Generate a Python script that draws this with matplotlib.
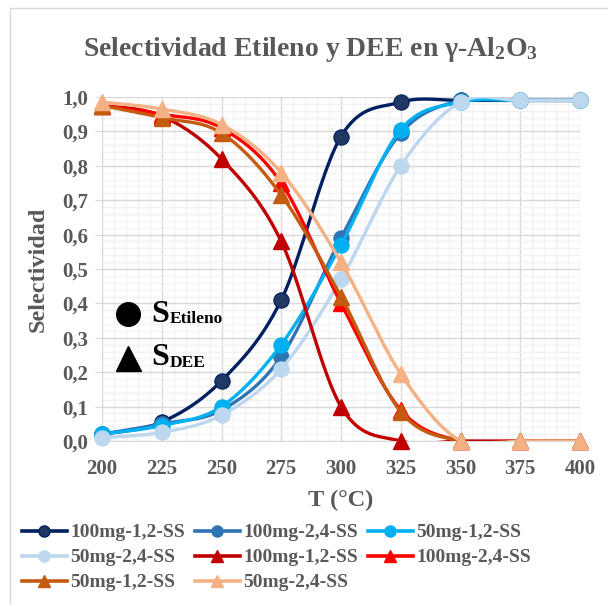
import numpy as np
import matplotlib
matplotlib.use("Agg")
import matplotlib.pyplot as plt
from matplotlib.lines import Line2D
from matplotlib.patches import Rectangle
from matplotlib.ticker import MultipleLocator, FuncFormatter

T = [200, 225, 250, 275, 300, 325, 350, 375, 400]

# selectividad a etileno (circulos)
eti_100_12 = [0.020, 0.055, 0.175, 0.410, 0.885, 0.985, 0.990, 0.990, 0.990]
eti_100_24 = [0.020, 0.050, 0.090, 0.245, 0.590, 0.895, 0.990, 0.990, 0.990]
eti_50_12 = [0.020, 0.045, 0.100, 0.280, 0.570, 0.905, 0.985, 0.990, 0.990]
eti_50_24 = [0.010, 0.025, 0.075, 0.210, 0.470, 0.800, 0.985, 0.990, 0.990]

# selectividad a DEE (triangulos)
dee_100_12 = [0.975, 0.945, 0.820, 0.580, 0.100, 0.000, 0.000, 0.000, 0.000]
dee_100_24 = [0.975, 0.950, 0.910, 0.750, 0.400, 0.090, 0.000, 0.000, 0.000]
dee_50_12 = [0.975, 0.940, 0.895, 0.715, 0.420, 0.085, 0.000, 0.000, 0.000]
dee_50_24 = [0.985, 0.965, 0.920, 0.780, 0.520, 0.195, 0.000, 0.000, 0.000]

labels = ["100mg-1,2-SS", "100mg-2,4-SS", "50mg-1,2-SS", "50mg-2,4-SS"]
eti = [eti_100_12, eti_100_24, eti_50_12, eti_50_24]
dee = [dee_100_12, dee_100_24, dee_50_12, dee_50_24]
c_eti = ["#002060", "#2E75B6", "#00B0F0", "#BDD7EE"]
c_eti_mk = ["#1F3864", "#2E75B6", "#00B0F0", "#BDD7EE"]
c_dee = ["#C00000", "#FF0000", "#C55A11", "#F4B183"]


def smooth(x, y, n=30):
    # curva suavizada tipo Excel (Bezier con tangentes Catmull-Rom)
    x, y = np.asarray(x, float), np.asarray(y, float)
    px = np.concatenate([[x[0]], x, [x[-1]]])
    py = np.concatenate([[y[0]], y, [y[-1]]])
    xs, ys = [], []
    t = np.linspace(0, 1, n)
    for i in range(1, len(px) - 2):
        p0 = np.array([px[i], py[i]])
        p3 = np.array([px[i + 1], py[i + 1]])
        c1 = p0 + (np.array([px[i + 1], py[i + 1]]) - np.array([px[i - 1], py[i - 1]])) / 6
        c2 = p3 - (np.array([px[i + 2], py[i + 2]]) - np.array([px[i], py[i]])) / 6
        b = ((1 - t) ** 3)[:, None] * p0 + (3 * (1 - t) ** 2 * t)[:, None] * c1 \
            + (3 * (1 - t) * t ** 2)[:, None] * c2 + (t ** 3)[:, None] * p3
        xs.append(b[:, 0]); ys.append(b[:, 1])
    return np.concatenate(xs), np.concatenate(ys)


plt.rcParams["font.family"] = ["Liberation Serif", "DejaVu Serif"]
plt.rcParams["font.weight"] = "bold"
plt.rcParams["mathtext.fontset"] = "custom"
plt.rcParams["mathtext.bf"] = "Liberation Serif:bold"
plt.rcParams["mathtext.rm"] = "Liberation Serif:bold"
plt.rcParams["mathtext.it"] = "Liberation Serif:bold"
gray = "#595959"

fig = plt.figure(figsize=(6.08, 6.05), dpi=100)
fig.patches.append(Rectangle((10 / 608, -0.01), 1.0, 1 - 8 / 605 + 0.01, transform=fig.transFigure,
                             fill=False, ec="#D9D9D9", lw=1.0))
ax = fig.add_axes([102 / 608, 1 - 441 / 605, 478 / 608, 344 / 605])

handles = []
for k in range(4):
    sx, sy = smooth(T, eti[k])
    ax.plot(sx, sy, color=c_eti[k], lw=2.4, zorder=3 + k)
    ax.plot(T, eti[k], "o", color=c_eti_mk[k], ms=11, mec=c_eti[k], mew=0.8, zorder=3 + k, clip_on=False)
    handles.append(Line2D([], [], color=c_eti[k], lw=2.6, marker="o", ms=8, mfc=c_eti_mk[k]))
for k in range(4):
    sx, sy = smooth(T, dee[k])
    ax.plot(sx, sy, color=c_dee[k], lw=2.4, zorder=8 + k)
    ax.plot(T, dee[k], "^", color=c_dee[k], ms=11, zorder=8 + k, clip_on=False)
    handles.append(Line2D([], [], color=c_dee[k], lw=2.6, marker="^", ms=8))

ax.set_xlim(200, 400)
ax.set_ylim(0, 1.0)
ax.xaxis.set_major_locator(MultipleLocator(25))
ax.xaxis.set_minor_locator(MultipleLocator(5))
ax.yaxis.set_major_locator(MultipleLocator(0.1))
ax.yaxis.set_minor_locator(MultipleLocator(0.02))
ax.yaxis.set_major_formatter(FuncFormatter(lambda v, p: f"{v:.1f}".replace(".", ",")))
ax.grid(which="major", color="#D9D9D9", lw=1.0, zorder=0)
ax.grid(which="minor", color="#F2F2F2", lw=1.0, zorder=0)
ax.set_axisbelow(True)
for s in ["top", "right"]:
    ax.spines[s].set_visible(False)
for s in ["left", "bottom"]:
    ax.spines[s].set_color("#D9D9D9")
ax.tick_params(axis="y", which="major", length=5, color="#D9D9D9", labelsize=15, labelcolor=gray, pad=5)
ax.tick_params(axis="x", which="major", length=0, labelsize=15, labelcolor=gray, pad=13)
ax.tick_params(which="minor", length=0)
for lb in ax.get_xticklabels() + ax.get_yticklabels():
    lb.set_fontweight("bold")

ax.set_xlabel("T (°C)", fontsize=17.5, color=gray, fontweight="bold", labelpad=8)
ax.set_ylabel("Selectividad", fontsize=17.5, color=gray, fontweight="bold", labelpad=10)
fig.text(311 / 608, 1 - 50 / 605, r"Selectividad Etileno y DEE en γ-Al$_\mathbf{2}$O$_\mathbf{3}$",
         ha="center", va="center", fontsize=20, color=gray, fontweight="bold")

# leyenda de simbolos dentro del grafico
ax.plot([210.9], [0.369], "o", color="black", ms=17, clip_on=False)
ax.plot([210.9], [0.242], "^", color="black", ms=18, clip_on=False)
ax.text(220.5, 0.369, "S", fontsize=23, color="black", fontweight="bold", va="center")
ax.text(228.3, 0.355, "Etileno", fontsize=12.5, color="black", fontweight="bold", va="center")
ax.text(220.5, 0.242, "S", fontsize=23, color="black", fontweight="bold", va="center")
ax.text(228.3, 0.228, "DEE", fontsize=12.5, color="black", fontweight="bold", va="center")

order = [0, 3, 6, 1, 4, 7, 2, 5]
fig.legend([handles[i] for i in order], [labels[i % 4] for i in order], ncol=3,
           loc="upper left", bbox_to_anchor=(14 / 608, 1 - 516 / 605), frameon=False,
           prop={"size": 14, "weight": "bold"}, labelcolor=gray, handlelength=2.3,
           handletextpad=0.2, columnspacing=0.5, labelspacing=0.38, borderaxespad=0)

fig.savefig("out.png", dpi=100)
